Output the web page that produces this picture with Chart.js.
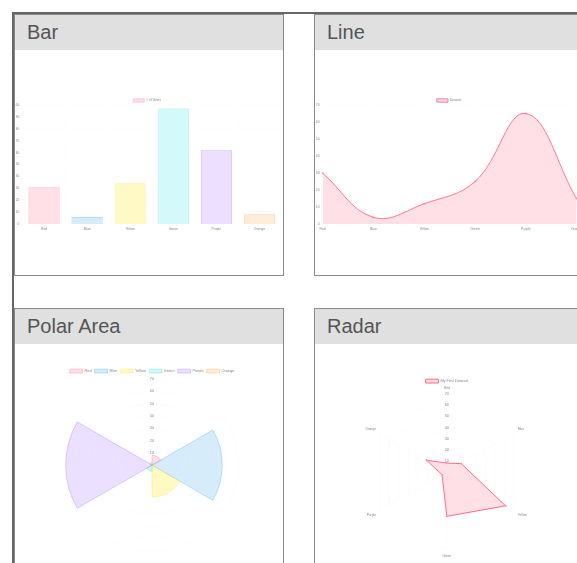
<!DOCTYPE html>
<html><head><meta charset="utf-8">
<script src="https://cdn.jsdelivr.net/npm/chart.js@4"></script>
<style>
html,body{margin:0;padding:0;background:#fff;overflow:hidden;width:577px;height:563px;}
#outer{position:absolute;left:12px;top:12px;width:700px;height:700px;border-top:2px solid #666;border-left:2px solid #666;}
.panel{position:absolute;width:268px;height:260px;border:1px solid #8a8a8a;background:#fff;}
.head{height:35px;background:#e0e0e0;font:20px "Liberation Sans",Arial,sans-serif;color:#555;padding-left:12px;line-height:35px;}
canvas{position:absolute;filter:blur(0.6px);}
</style>
</head><body>
<div id="outer">
  <div class="panel" style="left:0;top:0"><div class="head">Bar</div><canvas id="bar" width="957" height="486" style="left:-2px;top:81px;width:268px;height:136px"></canvas></div>
  <div class="panel" style="left:300px;top:0"><div class="head">Line</div><canvas id="line" width="957" height="486" style="left:0;top:81px;width:268px;height:136px"></canvas></div>
  <div class="panel" style="left:0;top:294px"><div class="head">Polar Area</div><canvas id="polar" width="588" height="588" style="left:43px;top:57px;width:188px;height:188px"></canvas></div>
  <div class="panel" style="left:300px;top:294px"><div class="head">Radar</div><canvas id="radar" width="569" height="569" style="left:41px;top:67px;width:182px;height:182px"></canvas></div>
</div>
<script>
const labels = ['Red', 'Blue', 'Yellow', 'Green', 'Purple', 'Orange'];
const barLabel = '# of Votes';
const barValues = [31, 6, 34, 97, 62, 8];
const lineLabel = 'Dataset';
const lineValues = [30, 4, 12, 25, 65, 15];
const polarValues = [8, 57, 26, 5, 70, 2];
const radarLabel = 'My First Dataset';
const radarValues = [8, 15, 61, 40, 5, 21];

const fills = ['rgba(255, 99, 132, 0.2)', 'rgba(54, 162, 235, 0.2)', 'rgba(255, 240, 60, 0.3)', 'rgba(80, 230, 240, 0.25)', 'rgba(153, 102, 255, 0.2)', 'rgba(255, 159, 64, 0.2)'];
const strokes = ['rgb(255, 99, 132)', 'rgb(54, 162, 235)', 'rgb(255, 220, 50)', 'rgb(60, 210, 220)', 'rgb(153, 102, 255)', 'rgb(255, 159, 64)'];

Chart.defaults.font.family = '"Liberation Sans", Arial, sans-serif';
Chart.defaults.color = '#888';
Chart.defaults.borderColor = 'rgba(0, 0, 0, 0.05)';
function opts(id, disp, extra) {
  const c = document.getElementById(id);
  return Object.assign({responsive: false, animation: false, devicePixelRatio: disp / c.width + 1e-6}, extra || {});
}

new Chart(document.getElementById('bar'), {
  type: 'bar',
  data: {labels: labels, datasets: [{label: barLabel, data: barValues, backgroundColor: fills, borderColor: strokes, borderWidth: 1}]},
  options: opts('bar', 268, {scales: {y: {beginAtZero: true}}})
});
new Chart(document.getElementById('line'), {
  type: 'line',
  data: {labels: labels, datasets: [{label: lineLabel, data: lineValues, fill: true, tension: 0.4, backgroundColor: fills[0], borderColor: strokes[0]}]},
  options: opts('line', 268)
});
new Chart(document.getElementById('polar'), {
  type: 'polarArea',
  data: {labels: labels, datasets: [{label: barLabel, data: polarValues, backgroundColor: fills, borderColor: strokes, borderWidth: 1}]},
  options: opts('polar', 188)
});
new Chart(document.getElementById('radar'), {
  type: 'radar',
  data: {labels: labels, datasets: [{label: radarLabel, data: radarValues, fill: true, backgroundColor: fills[0], borderColor: strokes[0], pointBackgroundColor: strokes[0], pointBorderColor: '#fff'}]},
  options: opts('radar', 182)
});
</script>
</body></html>
